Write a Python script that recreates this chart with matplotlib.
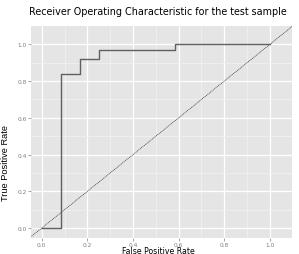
import numpy as np
import matplotlib
matplotlib.use('Agg')
import matplotlib.pyplot as plt

# ROC curve points (step shape)
fpr = [0.0, 1/12, 1/12, 2/12, 2/12, 3/12, 3/12, 7/12, 7/12, 1.0]
tpr = [0.0, 0.0, 0.84, 0.84, 0.92, 0.92, 0.97, 0.97, 1.0, 1.0]
diag = [-0.05, 1.1]
ticks = [0.0, 0.2, 0.4, 0.6, 0.8, 1.0]
tick_labels = ['0.0', '0.2', '0.4', '0.6', '0.8', '1.0']
minor = [0.1, 0.3, 0.5, 0.7, 0.9]

fig = plt.figure(figsize=(2.99, 2.55), dpi=100)
ax = fig.add_axes([31/299, 16/255, 261/299, 212/255])
ax.set_facecolor('#E5E5E5')

ax.set_xlim(-0.047, 1.097)
ax.set_ylim(-0.054, 1.1)

ax.set_xticks(ticks)
ax.set_xticklabels(tick_labels)
ax.set_yticks(ticks)
ax.set_yticklabels(tick_labels)
ax.set_xticks(minor, minor=True)
ax.set_yticks(minor, minor=True)
ax.grid(which='major', color='white', lw=0.9)
ax.grid(which='minor', color='#F2F2F2', lw=0.5)
ax.set_axisbelow(True)
ax.tick_params(which='minor', length=0)
ax.tick_params(which='major', length=2, width=0.5, color='#7F7F7F',
               labelsize=4.2, labelcolor='#7F7F7F', pad=0.8)
for s in ax.spines.values():
    s.set_visible(False)

ax.plot(diag, diag, color='#333333', lw=0.5, ls=(0, (1.5, 1)))
ax.plot(fpr, tpr, color='#606060', lw=1.0)

fig.text(158/299, 1 - 12/255, 'Receiver Operating Characteristic for the test sample',
         ha='center', va='center', fontsize=6.95)
fig.text(158/299, 1 - 252/255, 'False Positive Rate', ha='center', va='center',
         fontsize=5.6)
fig.text(6/299, 1 - 163/255, 'True Positive Rate', ha='center', va='center',
         fontsize=6.7, rotation=90, family='Liberation Sans')

fig.savefig('out.png', dpi=100)
